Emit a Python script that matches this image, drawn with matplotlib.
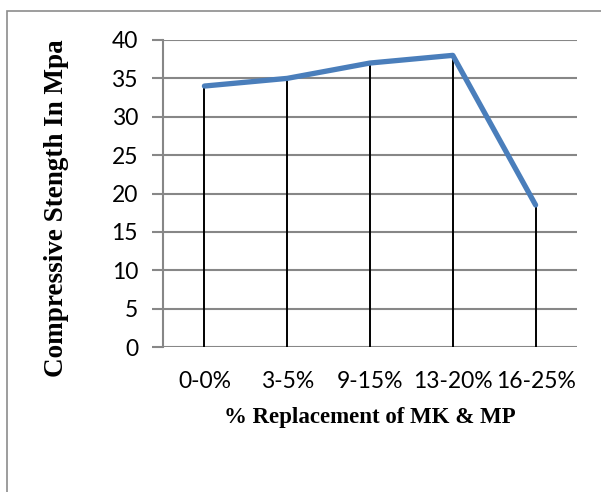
import matplotlib

matplotlib.use("Agg")
import matplotlib.pyplot as plt  # noqa: E402
from matplotlib.patches import Rectangle  # noqa: E402

# Compressive strength for each MK & MP replacement mix
mixes = ["0-0%", "3-5%", "9-15%", "13-20%", "16-25%"]
strength = [34.0, 35.0, 37.0, 38.0, 18.5]
y_ticks = [0, 5, 10, 15, 20, 25, 30, 35, 40]

W, H = 601, 492
fig = plt.figure(figsize=(W / 100, H / 100), dpi=100)

# chart frame (runs off the right and bottom of the canvas)
fig.patches.append(Rectangle((7 / W, -0.05), 1.2, 1 - 11 / H + 0.05,
                             transform=fig.transFigure, fill=False,
                             edgecolor="#8c8c8c", linewidth=1.2))

ax = fig.add_axes([163 / W, 1 - 347 / H, (577 - 163) / W, (347 - 40) / H])
x = list(range(len(mixes)))

grid_c = "#878787"
for t in y_ticks:
    ax.axhline(t, color=grid_c, lw=1.5, zorder=1)

# drop lines from each point to the axis
ax.vlines(x, 0, strength, colors="black", lw=1.4, zorder=2)
ax.plot(x, strength, color="#4a7ebb", lw=3.8, solid_capstyle="round",
        solid_joinstyle="round", zorder=3)

ax.set_xlim(-0.5, len(mixes) - 0.5)
ax.set_ylim(0, 40)
ax.set_yticks(y_ticks)
ax.set_xticks(x)
ax.set_xticklabels(mixes)

for side in ("top", "right", "bottom"):
    ax.spines[side].set_visible(False)
ax.spines["left"].set_color(grid_c)
ax.spines["left"].set_linewidth(1.5)
ax.tick_params(axis="y", length=8, width=1.5, color=grid_c, pad=10,
               labelsize=16.5)
ax.tick_params(axis="x", length=0, pad=17, labelsize=16.5)
for lab in ax.get_xticklabels() + ax.get_yticklabels():
    lab.set_fontfamily("Lato")

fig.text(370 / W, 1 - 418 / H, "% Replacement of MK & MP", ha="center",
         va="center", fontsize=16.5, fontweight="bold",
         family="Liberation Serif")
fig.text(57 / W, 1 - 208 / H, "Compressive Stength In Mpa", ha="center",
         va="center", rotation=90, fontsize=19.5, fontweight="bold",
         family="Liberation Serif")

fig.savefig("out.png", dpi=100)
